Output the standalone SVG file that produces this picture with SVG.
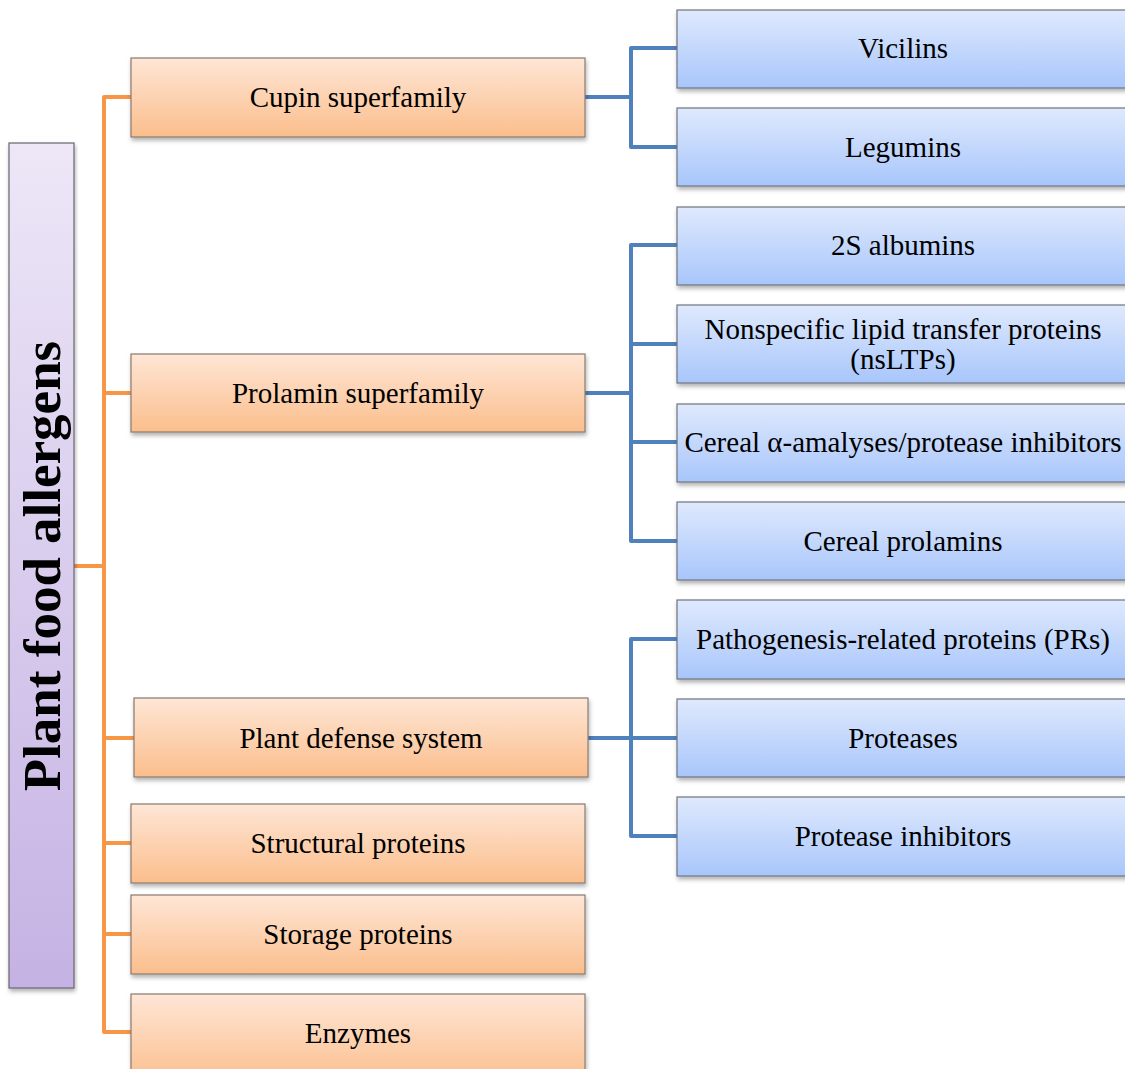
<svg xmlns="http://www.w3.org/2000/svg" width="1125" height="1069" viewBox="0 0 1125 1069">
<style>
.t{font-family:"Liberation Serif","Times New Roman",serif;font-size:29px;fill:#000;text-anchor:middle;dominant-baseline:central}
.o{fill:url(#go);stroke:#8a7a6e;stroke-width:1.2;filter:url(#sh)}
.b{fill:url(#gb);stroke:#6e7480;stroke-width:1.2;filter:url(#sh)}
.p{fill:url(#gp);stroke:#6a6570;stroke-width:1.2;filter:url(#sh)}
.co{fill:none;stroke:#f79646;stroke-width:4;stroke-linejoin:round}
.cb{fill:none;stroke:#4f81bd;stroke-width:4;stroke-linejoin:round}
</style>
<defs>
<linearGradient id="go" x1="0" y1="0" x2="0" y2="1"><stop offset="0" stop-color="#fee6d6"/><stop offset="1" stop-color="#fbbe8c"/></linearGradient>
<linearGradient id="gb" x1="0" y1="0" x2="0" y2="1"><stop offset="0" stop-color="#dfe9fd"/><stop offset="1" stop-color="#a8c6fb"/></linearGradient>
<linearGradient id="gp" x1="0" y1="0" x2="0" y2="1"><stop offset="0" stop-color="#ede7f7"/><stop offset="1" stop-color="#c5b2e4"/></linearGradient>
<filter id="sh" x="-5%" y="-10%" width="110%" height="130%"><feDropShadow dx="1" dy="3" stdDeviation="2" flood-color="#000" flood-opacity="0.3"/></filter>
</defs>
<g id="connectors">
<path class="co" d="M74 566H104M131 97H104V1032H131M104 393H131M104 738H134M104 843H131M104 934H131"/>
<path class="cb" d="M585 97H631M677 48H631V147H677"/>
<path class="cb" d="M585 393H631M677 245H631V541H677M631 344H677M631 442H677"/>
<path class="cb" d="M588 738H677M677 639H631V836H677"/>
</g>
<g id="root"><rect class="p" x="9" y="143" width="65" height="845"/>
<text class="t" transform="translate(42 566) rotate(-90)" style="font-size:53px;font-weight:bold">Plant food allergens</text></g>
<g id="cupin"><rect class="o" x="131" y="58" width="454" height="79"/><text class="t" x="358" y="97">Cupin superfamily</text></g>
<g id="prolamin"><rect class="o" x="131" y="354" width="454" height="78"/><text class="t" x="358" y="393">Prolamin superfamily</text></g>
<g id="defense"><rect class="o" x="134" y="698" width="454" height="79"/><text class="t" x="361" y="738">Plant defense system</text></g>
<g id="structural"><rect class="o" x="131" y="804" width="454" height="79"/><text class="t" x="358" y="843">Structural proteins</text></g>
<g id="storage"><rect class="o" x="131" y="895" width="454" height="79"/><text class="t" x="358" y="934">Storage proteins</text></g>
<g id="enzymes"><rect class="o" x="131" y="994" width="454" height="90"/><text class="t" x="358" y="1033">Enzymes</text></g>
<g id="vicilins"><rect class="b" x="677" y="10" width="460" height="78"/><text class="t" x="903" y="48">Vicilins</text></g>
<g id="legumins"><rect class="b" x="677" y="108" width="460" height="78"/><text class="t" x="903" y="147">Legumins</text></g>
<g id="albumins"><rect class="b" x="677" y="207" width="460" height="78"/><text class="t" x="903" y="245">2S albumins</text></g>
<g id="nsltp"><rect class="b" x="677" y="305" width="460" height="78"/><text class="t" x="903" y="329">Nonspecific lipid transfer proteins</text><text class="t" x="903" y="359">(nsLTPs)</text></g>
<g id="cereal-inh"><rect class="b" x="677" y="404" width="460" height="78"/><text class="t" x="903" y="442">Cereal α-amalyses/protease inhibitors</text></g>
<g id="cereal-prol"><rect class="b" x="677" y="502" width="460" height="78"/><text class="t" x="903" y="541">Cereal prolamins</text></g>
<g id="prs"><rect class="b" x="677" y="600" width="460" height="79"/><text class="t" x="903" y="639">Pathogenesis-related proteins (PRs)</text></g>
<g id="proteases"><rect class="b" x="677" y="699" width="460" height="78"/><text class="t" x="903" y="738">Proteases</text></g>
<g id="inhibitors"><rect class="b" x="677" y="797" width="460" height="79"/><text class="t" x="903" y="836">Protease inhibitors</text></g>
</svg>
